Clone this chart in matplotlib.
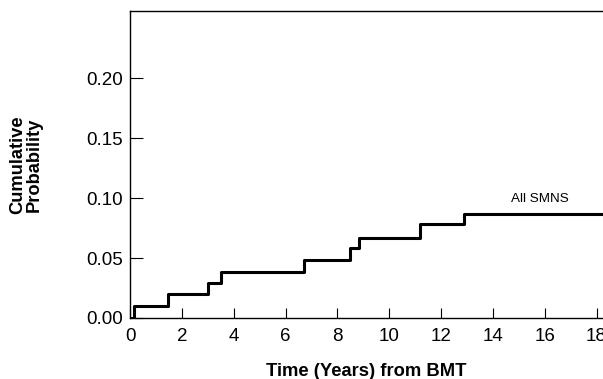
import numpy as np
import matplotlib.pyplot as plt

plt.rcParams['font.family'] = ['Liberation Sans', 'DejaVu Sans']

# step times (years) and cumulative probability after each step
times = [0.0, 0.15, 1.48, 3.02, 3.5, 6.7, 8.5, 8.85, 11.2, 12.9, 18.4]
probs = [0.0, 0.010, 0.020, 0.029, 0.038, 0.048, 0.058, 0.067, 0.078, 0.087, 0.087]
xticks = [0, 2, 4, 6, 8, 10, 12, 14, 16, 18]
yticks = [0.00, 0.05, 0.10, 0.15, 0.20]

fig = plt.figure(figsize=(6.03, 3.79), dpi=100)
ax = fig.add_axes([0.2156, 0.161, 0.7844, 0.81])

ax.step(times, probs, where='post', color='black', lw=2.2)
ax.text(15.8, 0.099, 'All SMNS', fontsize=9.7, ha='center', va='center')

ax.set_xlim(0, 18.25)
ax.set_ylim(0, 0.256)
ax.set_xticks(xticks)
ax.set_yticks(yticks)
ax.set_yticklabels(['%.2f' % v for v in yticks])
ax.tick_params(axis='x', direction='in', length=7, width=0.8, labelsize=13.5, pad=7)
ax.tick_params(axis='y', direction='in', length=9, width=0.8, labelsize=13.5, pad=5)
ax.spines['right'].set_visible(False)
for s in ['left', 'top', 'bottom']:
    ax.spines[s].set_linewidth(1.0)

ax.set_xlabel('Time (Years) from BMT', fontsize=13.2, fontweight='bold', labelpad=13)
fig.text(0.043, 0.565, 'Cumulative\nProbability', rotation=90, fontsize=13.2,
         fontweight='bold', ha='center', va='center', linespacing=0.95)

fig.savefig('out.png', dpi=100)
